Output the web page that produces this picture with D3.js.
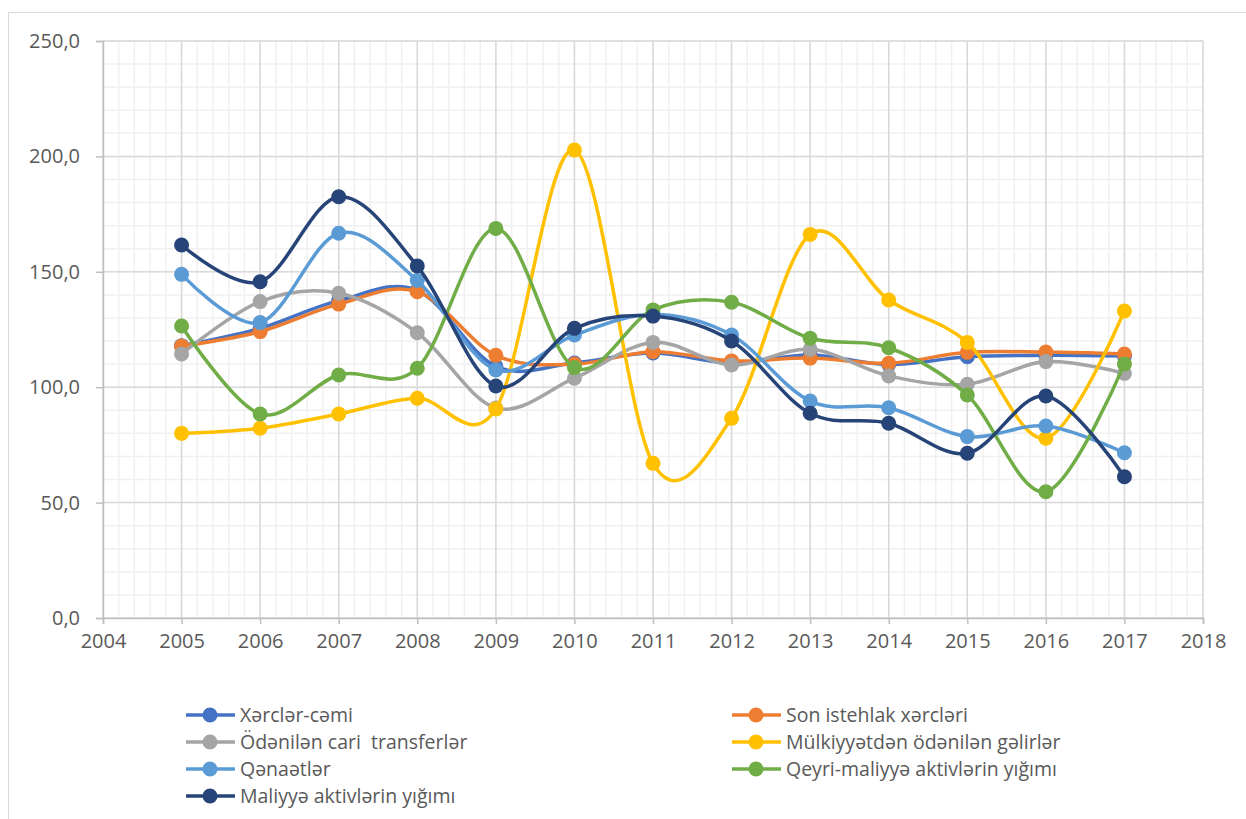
<!DOCTYPE html>
<html>
<head>
<meta charset="utf-8">
<script src="https://cdn.jsdelivr.net/npm/d3@7"></script>
<style>
    body { margin: 0; background: #fff; }
    text { font-family: "Open Sans", "Noto Sans", sans-serif; fill: #595959; }
</style>
</head>
<body>
<svg width="1246" height="819"></svg>
<script>
var years = [2005, 2006, 2007, 2008, 2009, 2010, 2011, 2012, 2013, 2014, 2015, 2016, 2017];

var xercler = [118.0, 125.5, 137.5, 142.0, 109.0, 110.5, 114.8, 110.5, 114.0, 109.8, 113.2, 113.8, 113.5];
var sonIstehlak = [117.8, 124.1, 136.0, 141.4, 113.8, 110.0, 115.4, 111.4, 112.6, 110.4, 115.1, 115.2, 114.4];
var odenilenTransfer = [114.4, 137.1, 140.7, 123.6, 91.0, 103.9, 119.4, 109.6, 116.4, 104.9, 101.3, 111.1, 106.0];
var mulkiyyet = [80.0, 82.2, 88.4, 95.2, 90.6, 202.8, 67.0, 86.5, 166.2, 137.8, 119.4, 77.9, 133.0];
var qenaetler = [148.9, 128.0, 166.7, 146.2, 107.5, 122.6, 131.5, 122.6, 94.0, 91.1, 78.6, 83.2, 71.6];
var qeyriMaliyye = [126.5, 88.4, 105.3, 108.2, 168.8, 108.5, 133.5, 136.8, 121.2, 117.1, 96.6, 54.7, 110.1];
var maliyye = [161.6, 145.7, 182.5, 152.5, 100.5, 125.5, 130.8, 120.0, 88.7, 84.4, 71.4, 96.2, 61.2];

var seriesNames = ["Xərclər-cəmi", "Son istehlak xərcləri", "Ödənilən cari  transferlər",
    "Mülkiyyətdən ödənilən gəlirlər", "Qənaətlər", "Qeyri-maliyyə aktivlərin yığımı", "Maliyyə aktivlərin yığımı"];
var seriesColors = ["#4472c4", "#ed7d31", "#a5a5a5", "#ffc000", "#5b9bd5", "#70ad47", "#264478"];

var xTicks = d3.range(2004, 2019);
var yTicks = [0, 50, 100, 150, 200, 250];

(function () {
    var svg = d3.select("svg");

    // chart frame
    svg.append("rect")
        .attr("x", 8.5).attr("y", 12.5)
        .attr("width", 1250).attr("height", 830)
        .attr("fill", "none")
        .attr("stroke", "#d9d9d9");

    var scaleX = d3.scaleLinear().domain([2004, 2018]).range([103, 1203]),
        scaleY = d3.scaleLinear().domain([0, 250]).range([618, 41]);

    var grid = svg.append("g");

    // minor grid
    grid.selectAll(".minorX")
        .data(d3.range(2004, 2018.01, 0.2))
        .enter().append("line")
        .attr("x1", function (d) { return scaleX(d); })
        .attr("x2", function (d) { return scaleX(d); })
        .attr("y1", scaleY(0)).attr("y2", scaleY(250))
        .attr("stroke", "#f0f0f0").attr("stroke-width", 1.5);

    grid.selectAll(".minorY")
        .data(d3.range(0, 251, 10))
        .enter().append("line")
        .attr("x1", scaleX(2004)).attr("x2", scaleX(2018))
        .attr("y1", function (d) { return scaleY(d); })
        .attr("y2", function (d) { return scaleY(d); })
        .attr("stroke", "#f0f0f0").attr("stroke-width", 1.5);

    // major grid
    grid.selectAll(".majorX")
        .data(xTicks)
        .enter().append("line")
        .attr("x1", function (d) { return scaleX(d); })
        .attr("x2", function (d) { return scaleX(d); })
        .attr("y1", scaleY(0)).attr("y2", scaleY(250))
        .attr("stroke", "#d9d9d9").attr("stroke-width", 1.5);

    grid.selectAll(".majorY")
        .data(yTicks)
        .enter().append("line")
        .attr("x1", scaleX(2004)).attr("x2", scaleX(2018))
        .attr("y1", function (d) { return scaleY(d); })
        .attr("y2", function (d) { return scaleY(d); })
        .attr("stroke", "#d9d9d9").attr("stroke-width", 1.5);

    // axes
    var axisY = svg.append("g")
        .attr("transform", "translate(" + scaleX(2004) + ",0)")
        .call(d3.axisLeft(scaleY).tickValues(yTicks).tickSize(7).tickPadding(16)
            .tickFormat(function (d) { return d3.format(".1f")(d).replace(".", ","); }));

    var axisX = svg.append("g")
        .attr("transform", "translate(0," + scaleY(0) + ")")
        .call(d3.axisBottom(scaleX).tickValues(xTicks).tickSize(6).tickPadding(10)
            .tickFormat(d3.format("d")));

    [axisX, axisY].forEach(function (ax) {
        ax.select(".domain").attr("stroke", "#bfbfbf").attr("stroke-width", 1.5);
        ax.selectAll(".tick line").attr("stroke", "#bfbfbf").attr("stroke-width", 1.5);
        ax.selectAll(".tick text")
            .style("font-family", "'Open Sans', 'Noto Sans', sans-serif")
            .style("font-size", "20px")
            .attr("fill", "#595959");
    });

    // series
    var allSeries = [xercler, sonIstehlak, odenilenTransfer, mulkiyyet, qenaetler, qeyriMaliyye, maliyye];
    var data = allSeries.map(function (vals, i) {
        return {
            id: seriesNames[i],
            color: seriesColors[i],
            values: vals.map(function (v, j) { return {year: years[j], value: v}; })
        };
    });

    var line = d3.line()
        .curve(d3.curveCardinal.tension(0))
        .x(function (d) { return scaleX(d.year); })
        .y(function (d) { return scaleY(d.value); });

    var seriesG = svg.selectAll(".series")
        .data(data)
        .enter().append("g")
        .attr("class", "series");

    seriesG.append("path")
        .attr("d", function (d) { return line(d.values); })
        .attr("fill", "none")
        .attr("stroke", function (d) { return d.color; })
        .attr("stroke-width", 3.5)
        .attr("stroke-linecap", "round");

    seriesG.selectAll("circle")
        .data(function (d) { return d.values.map(function (v) { return {v: v, color: d.color}; }); })
        .enter().append("circle")
        .attr("cx", function (d) { return scaleX(d.v.year); })
        .attr("cy", function (d) { return scaleY(d.v.value); })
        .attr("r", 7.5)
        .attr("fill", function (d) { return d.color; });

    // legend
    var legend = svg.append("g");
    var legendItems = legend.selectAll(".item")
        .data(data)
        .enter().append("g")
        .attr("transform", function (d, i) {
            var col = i % 2, row = Math.floor(i / 2);
            return "translate(" + (col === 0 ? 186 : 732) + "," + (715 + row * 27) + ")";
        });

    legendItems.append("line")
        .attr("x1", 0).attr("x2", 49)
        .attr("stroke", function (d) { return d.color; })
        .attr("stroke-width", 3.5);

    legendItems.append("circle")
        .attr("cx", 24).attr("r", 7.5)
        .attr("fill", function (d) { return d.color; });

    legendItems.append("text")
        .attr("x", 54).attr("y", 7)
        .style("font-size", "19.5px")
        .style("white-space", "pre")
        .text(function (d) { return d.id; });
})();
</script>
</body>
</html>
